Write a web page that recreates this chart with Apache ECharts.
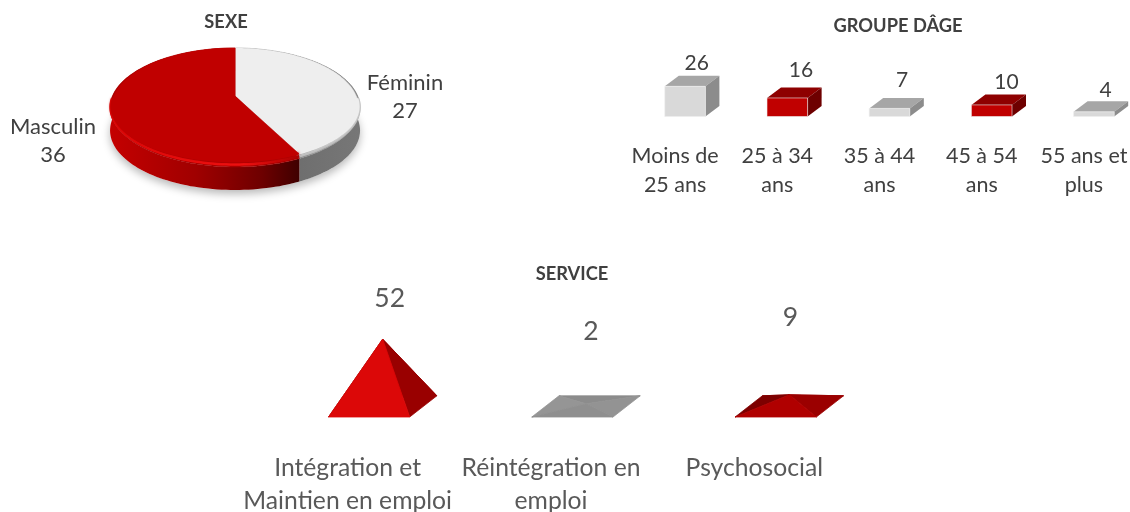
<!DOCTYPE html>
<html>
<head>
<meta charset="utf-8">
<style>
  html, body { margin: 0; padding: 0; background: #fff; }
  #chart { width: 1130px; height: 512px; }
</style>
<script src="https://cdn.jsdelivr.net/npm/echarts@6/dist/echarts.min.js"></script>
</head>
<body>
<div id="chart"></div>
<script>
// Data
const sexCategories = ['Féminin', 'Masculin'];
const sexValues = [27, 36];

const ageCategories = ['Moins de\n25 ans', '25 à 34\nans', '35 à 44\nans', '45 à 54\nans', '55 ans et\nplus'];
const ageValues = [26, 16, 7, 10, 4];

const serviceCategories = ['Intégration et\nMaintien en emploi', 'Réintégration en\nemploi', 'Psychosocial'];
const serviceValues = [52, 2, 9];

// Styling, kept apart from the data
const FONT = 'Lato';
const TEXT_DARK = '#404040';
const TEXT_GREY = '#595959';
const ageFaces = [
    { front: '#d9d9d9', top: '#a6a6a6', side: '#8c8c8c' },
    { front: '#c00000', top: '#8e0000', side: '#6e0000' },
    { front: '#d9d9d9', top: '#a6a6a6', side: '#8c8c8c' },
    { front: '#c00000', top: '#8e0000', side: '#6e0000' },
    { front: '#d9d9d9', top: '#a6a6a6', side: '#8c8c8c' }
];
const ageLabelLift = [23, 28, 28, 23, 22];
const ageLabelShift = [0, 2, 1, 3, 0];
const serviceFaces = [
    { front: '#dc0808', right: '#990000', left: '#800000', back: '#900000' },
    { front: '#8f8f8f', right: '#939393', left: '#959595', back: '#8c8c8c' },
    { front: '#b00000', right: '#9b0000', left: '#7d0000', back: '#960000' }
];
const serviceLabelX = [7, 5, 1];
const serviceLabelY = [298, 331, 317];
const pieLabels = [{ x: 405, y: 83 }, { x: 53, y: 127 }];

const chart = echarts.init(document.getElementById('chart'));

// Pie: a disc seen in perspective, drawn in the -1..1 space of a hidden grid
const TILT = 0.193;
const DEPTH = 23;

function discPoint(api, theta, shrinkX, shrinkFront) {
    const d = 1 + TILT * Math.cos(theta);
    let x = Math.sin(theta) / d;
    let y = Math.cos(theta) / d;
    if (shrinkX) x *= shrinkX;
    if (shrinkFront && y < 0) y *= shrinkFront;
    return api.coord([x, y]);
}

function arcPoints(api, from, to, shrinkX, shrinkFront) {
    const pts = [];
    const steps = 120;
    for (let i = 0; i <= steps; i++) {
        pts.push(discPoint(api, from + (to - from) * i / steps, shrinkX, shrinkFront));
    }
    return pts;
}

function renderSlice(params, api) {
    const i = params.dataIndex;
    const total = sexValues.reduce((a, b) => a + b, 0);
    const before = sexValues.slice(0, i).reduce((a, b) => a + b, 0);
    const from = before / total * Math.PI * 2;
    const to = (before + api.value(1)) / total * Math.PI * 2;
    const apex = api.coord([0, 0]);
    const rim = arcPoints(api, from, to);
    const lowered = rim.map(p => [p[0], p[1] + DEPTH]).reverse();
    const inner = arcPoints(api, from, to, 0.988, 0.92);
    // only the part of the rim that faces the viewer catches the light
    const lit = arcPoints(api, from, to, 0.996, 0.965).filter(p => p[1] > apex[1] + 2);
    const innerFront = inner.filter(p => p[1] > apex[1] + 2);
    const isRed = i === 1;
    const faceColor = isRed ? '#c00000' : '#eeeeee';
    const children = [];

    if (i === 0) {
        // soft shadow under the whole disc
        const full = arcPoints(api, 0, Math.PI * 2).map(p => [p[0], p[1] + DEPTH]);
        children.push({
            type: 'polygon',
            shape: { points: full },
            style: { fill: '#ffffff', shadowBlur: 9, shadowColor: 'rgba(0,0,0,0.28)', shadowOffsetX: 0, shadowOffsetY: 4 }
        });
    }

    children.push({
        type: 'polygon',
        shape: { points: rim.concat(lowered) },
        style: {
            fill: isRed
                ? new echarts.graphic.LinearGradient(0, 0, 1, 0, [
                    { offset: 0, color: '#c40000' },
                    { offset: 0.45, color: '#a00000' },
                    { offset: 0.8, color: '#6e0000' },
                    { offset: 1, color: '#3f0000' }
                ])
                : new echarts.graphic.LinearGradient(0, 0, 1, 0, [
                    { offset: 0, color: '#666666' },
                    { offset: 1, color: '#777777' }
                ])
        }
    });
    // bevel
    children.push({
        type: 'polygon',
        shape: { points: [apex].concat(rim) },
        style: { fill: isRed ? '#a80000' : '#8a8a8a', stroke: isRed ? '#a80000' : '#8a8a8a', lineWidth: 0.5 }
    });
    children.push({
        type: 'polyline',
        shape: { points: lit },
        style: {
            fill: 'none',
            stroke: isRed
                ? new echarts.graphic.LinearGradient(0, 0, 1, 0, [
                    { offset: 0, color: '#e00808' },
                    { offset: 0.7, color: '#f01010' },
                    { offset: 1, color: '#a80000' }
                ])
                : '#b8b8b8',
            lineWidth: 2.5
        }
    });
    children.push({
        type: 'polygon',
        shape: { points: [apex].concat(inner) },
        style: { fill: faceColor, stroke: faceColor, lineWidth: 0.5 }
    });
    children.push({
        type: 'polyline',
        shape: { points: innerFront },
        style: { fill: 'none', stroke: faceColor, lineWidth: 2, shadowBlur: 3, shadowColor: faceColor }
    });
    children.push({
        type: 'text',
        style: {
            text: sexCategories[i] + '\n' + api.value(1),
            x: pieLabels[i].x,
            y: pieLabels[i].y - 14,
            align: 'center',
            verticalAlign: 'top',
            lineHeight: 28,
            fontSize: 22,
            fontFamily: FONT,
            fill: TEXT_DARK
        }
    });
    return { type: 'group', children };
}

// Age groups: boxes standing on a band of the category axis
function renderBox(params, api) {
    const i = params.dataIndex;
    const face = ageFaces[i];
    const base = api.coord([i, 0]);
    const top = api.coord([i, api.value(1)]);
    const left = base[0] - 10.3;
    const right = left + 40.6;
    const dx = 14;
    const dy = 10.5;
    return {
        type: 'group',
        children: [
            { type: 'polygon', shape: { points: [[left, top[1]], [right, top[1]], [right + dx, top[1] - dy], [left + dx, top[1] - dy]] }, style: { fill: face.top } },
            { type: 'polygon', shape: { points: [[right, top[1]], [right + dx, top[1] - dy], [right + dx, base[1] - dy], [right, base[1]]] }, style: { fill: face.side } },
            { type: 'rect', shape: { x: left, y: top[1], width: right - left, height: base[1] - top[1] }, style: { fill: face.front, stroke: '#eeeeee', lineWidth: 0.6 } },
            {
                type: 'text',
                style: {
                    text: String(api.value(1)),
                    x: left + 32 + ageLabelShift[i],
                    y: top[1] - ageLabelLift[i],
                    align: 'center',
                    verticalAlign: 'middle',
                    fontSize: 21,
                    fontFamily: FONT,
                    fill: TEXT_DARK
                }
            }
        ]
    };
}

// Services: four sided pyramids on a skewed square floor
function renderPyramid(params, api) {
    const i = params.dataIndex;
    const face = serviceFaces[i];
    const base = api.coord([i, 0]);
    const tip = api.coord([i, api.value(1)]);
    const cx = base[0] + 35;
    const hw = 40.6;
    const dx = 13.6;
    const dy = 10.6;
    const fl = [cx - hw - dx, base[1] + dy];
    const fr = [cx + hw - dx, base[1] + dy];
    const br = [cx + hw + dx, base[1] - dy];
    const bl = [cx - hw + dx, base[1] - dy];
    const apex = [cx, tip[1]];
    const tri = (a, b, fill) => ({ type: 'polygon', shape: { points: [a, b, apex] }, style: { fill, stroke: fill, lineWidth: 0.8 } });
    return {
        type: 'group',
        children: [
            tri(bl, br, face.back),
            tri(fl, bl, face.left),
            tri(fr, br, face.right),
            tri(fl, fr, face.front),
            {
                type: 'text',
                style: {
                    text: String(api.value(1)),
                    x: cx + serviceLabelX[i],
                    y: serviceLabelY[i],
                    align: 'center',
                    verticalAlign: 'middle',
                    fontSize: 26.5,
                    fontFamily: FONT,
                    fill: TEXT_GREY
                }
            }
        ]
    };
}

const hiddenValue = (gridIndex, min, max) => ({ type: 'value', gridIndex, min, max, show: false });
const bandAxis = (gridIndex, data, margin, lineHeight, fontSize, color) => ({
    type: 'category',
    gridIndex,
    data,
    axisLine: { show: false },
    axisTick: { show: false },
    axisLabel: { interval: 0, margin, lineHeight, fontSize, fontFamily: FONT, color, hideOverlap: false }
});
const titleStyle = { fontSize: 18.3, fontWeight: 'bold', fontFamily: FONT, color: TEXT_DARK };

chart.setOption({
    animation: false,
    backgroundColor: '#ffffff',
    title: [
        { text: 'SEXE', left: 226, top: 22, padding: 0, textAlign: 'center', textVerticalAlign: 'middle', textStyle: titleStyle },
        { text: 'GROUPE DÂGE', left: 898, top: 26, padding: 0, textAlign: 'center', textVerticalAlign: 'middle', textStyle: titleStyle },
        { text: 'SERVICE', left: 572, top: 274, padding: 0, textAlign: 'center', textVerticalAlign: 'middle', textStyle: titleStyle }
    ],
    grid: [
        { left: 112.4, top: 38.7, width: 245.3, height: 114.6, outerBoundsMode: 'none' },
        { left: 624, top: 0.5, width: 511, height: 116, outerBoundsMode: 'none' },
        { left: 246, top: 277, width: 610, height: 129.4, outerBoundsMode: 'none' }
    ],
    xAxis: [
        hiddenValue(0, -1, 1),
        bandAxis(1, ageCategories, 25, 29, 21.5, TEXT_DARK),
        bandAxis(2, serviceCategories, 45, 33, 24.7, TEXT_GREY)
    ],
    yAxis: [
        hiddenValue(0, -1, 1),
        hiddenValue(1, 0, 100),
        hiddenValue(2, 0, 100)
    ],
    series: [
        {
            type: 'custom',
            xAxisIndex: 0,
            yAxisIndex: 0,
            clip: false,
            silent: true,
            renderItem: renderSlice,
            data: sexValues.map((v, i) => [i, v])
        },
        {
            type: 'custom',
            xAxisIndex: 1,
            yAxisIndex: 1,
            clip: false,
            silent: true,
            renderItem: renderBox,
            data: ageValues.map((v, i) => [i, v])
        },
        {
            type: 'custom',
            xAxisIndex: 2,
            yAxisIndex: 2,
            clip: false,
            silent: true,
            renderItem: renderPyramid,
            data: serviceValues.map((v, i) => [i, v])
        }
    ]
});
</script>
</body>
</html>
